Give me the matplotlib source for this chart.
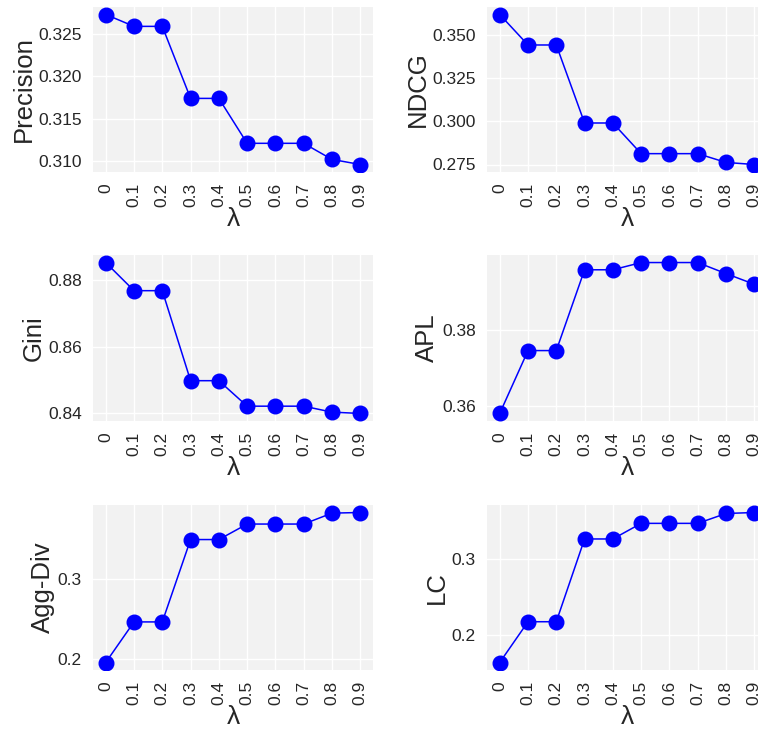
import matplotlib
matplotlib.use("Agg")
import matplotlib.pyplot as plt

plt.rcParams['font.family'] = ['Liberation Sans', 'DejaVu Sans']

lambdas = ['0', '0.1', '0.2', '0.3', '0.4', '0.5', '0.6', '0.7', '0.8', '0.9']

precision = [0.3273, 0.3259, 0.3259, 0.3174, 0.3174, 0.3121, 0.3121, 0.3121, 0.3102, 0.3096]
ndcg = [0.3621, 0.3444, 0.3444, 0.2991, 0.2991, 0.2813, 0.2813, 0.2813, 0.2762, 0.2750]
gini = [0.8854, 0.8769, 0.8769, 0.8497, 0.8497, 0.8420, 0.8420, 0.8420, 0.8402, 0.8398]
apl = [0.3581, 0.3746, 0.3746, 0.3958, 0.3958, 0.3977, 0.3977, 0.3977, 0.3948, 0.3920]
aggdiv = [0.195, 0.2463, 0.2463, 0.3504, 0.3504, 0.370, 0.370, 0.370, 0.3838, 0.3846]
lc = [0.1645, 0.2178, 0.2178, 0.326, 0.326, 0.3464, 0.3464, 0.3464, 0.3593, 0.3606]

precision_ticks = [0.310, 0.315, 0.320, 0.325]
precision_labels = ['0.310', '0.315', '0.320', '0.325']
ndcg_ticks = [0.275, 0.300, 0.325, 0.350]
ndcg_labels = ['0.275', '0.300', '0.325', '0.350']
gini_ticks = [0.84, 0.86, 0.88]
gini_labels = ['0.84', '0.86', '0.88']
apl_ticks = [0.36, 0.38]
apl_labels = ['0.36', '0.38']
aggdiv_ticks = [0.2, 0.3]
aggdiv_labels = ['0.2', '0.3']
lc_ticks = [0.2, 0.3]
lc_labels = ['0.2', '0.3']

panels = [
    ('Precision', precision, precision_ticks, precision_labels),
    ('NDCG', ndcg, ndcg_ticks, ndcg_labels),
    ('Gini', gini, gini_ticks, gini_labels),
    ('APL', apl, apl_ticks, apl_labels),
    ('Agg-Div', aggdiv, aggdiv_ticks, aggdiv_labels),
    ('LC', lc, lc_ticks, lc_labels),
]

W, H = 758, 729
fig = plt.figure(figsize=(W / 100, H / 100), dpi=100)

col_x = [93, 487]
row_y = [(7, 172), (255, 421), (505, 670)]
ax_w = 280

for i, (name, vals, ticks, labels) in enumerate(panels):
    r, c = divmod(i, 2)
    top, bot = row_y[r]
    ax = fig.add_axes([col_x[c] / W, 1 - bot / H, ax_w / W, (bot - top) / H])
    ax.set_facecolor('#f2f2f2')
    for s in ax.spines.values():
        s.set_visible(False)
    ax.grid(True, color='white', linewidth=1.0)
    ax.set_axisbelow(True)
    x = list(range(len(lambdas)))
    ax.plot(x, vals, color='#0000ff', linewidth=1.1, marker='o', markersize=10.5,
            markerfacecolor='#0000ff', markeredgecolor='#0000ff')
    ax.set_xticks(x)
    ax.set_xticklabels(lambdas, rotation=90)
    ax.set_yticks(ticks)
    ax.set_yticklabels(labels)
    ax.tick_params(axis='both', length=0, labelsize=12.5, colors='#262626', pad=8)
    ax.set_xlabel('λ', fontsize=19, color='#262626', labelpad=0)
    ax.set_ylabel(name, fontsize=18.5, color='#262626', labelpad=2)
    ax.set_xlim(-0.45, 9.45)

fig.savefig('out.png', dpi=100)
